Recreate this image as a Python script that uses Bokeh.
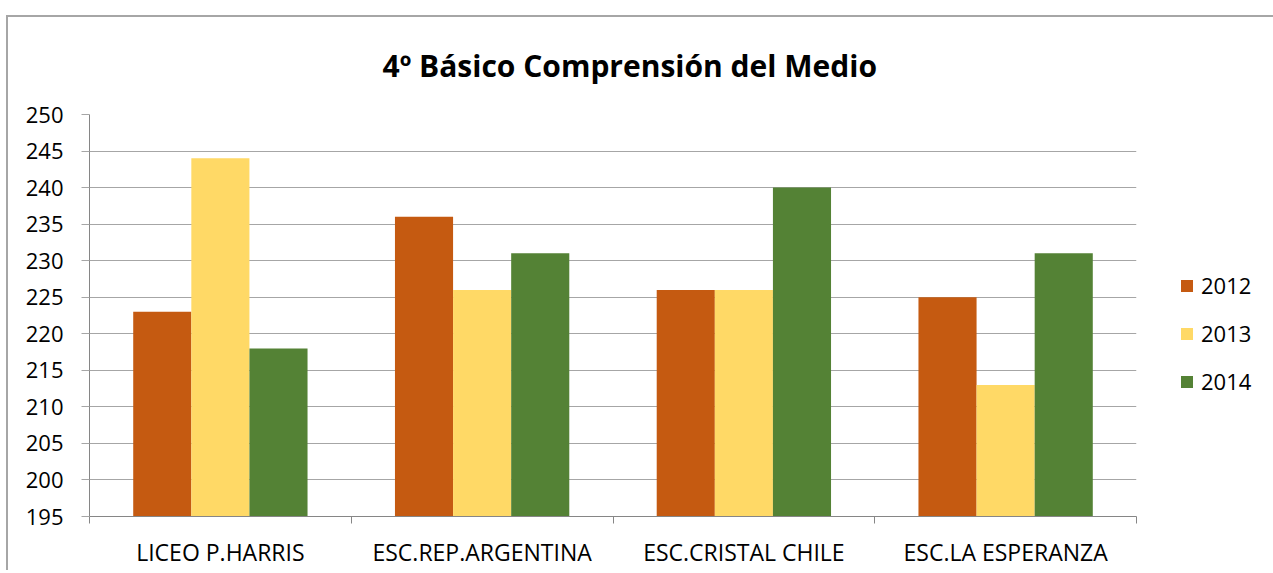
from bokeh.plotting import figure
from bokeh.models import Range1d, FixedTicker, Legend, LegendItem
from bokeh.embed import file_html
from bokeh.resources import INLINE

categories = ["LICEO P.HARRIS", "ESC.REP.ARGENTINA", "ESC.CRISTAL CHILE", "ESC.LA ESPERANZA"]
years = ["2012", "2013", "2014"]
v2012 = [223, 236, 226, 225]
v2013 = [244, 226, 226, 213]
v2014 = [218, 231, 240, 231]
y_ticks = list(range(195, 251, 5))
colors = ["#C55A11", "#FFD966", "#548235"]
title = "4º Básico Comprensión del Medio"

FONT = "Open Sans"
GRID = "#a6a6a6"

p = figure(frame_width=1047, frame_height=402, output_backend="svg", toolbar_location=None,
           x_range=Range1d(0, len(categories)), y_range=Range1d(y_ticks[0], y_ticks[-1]),
           min_border_left=81, min_border_right=113, min_border_top=97, min_border_bottom=40)
p.styles = {"margin-left": "6px", "margin-top": "15px",
            "border-left": "2px solid #a6a6a6", "border-top": "2px solid #a6a6a6"}
p.outline_line_color = None
p.background_fill_color = "white"
p.border_fill_color = "white"

p.title.text = title
p.title.align = "left"
p.title.vertical_align = "top"
p.title.text_font = FONT
p.title.text_font_size = "30px"
p.title.text_font_style = "bold"
p.title.text_color = "black"
p.title.offset = 293
p.title.standoff = 53

centers = [i + 0.5 for i in range(len(categories))]
bw = 0.222
renderers = []
for j, (vals, col) in enumerate(zip([v2012, v2013, v2014], colors)):
    xs = [c + (j - 1) * bw for c in centers]
    r = p.vbar(x=xs, top=vals, bottom=y_ticks[0], width=bw, fill_color=col, line_color=None)
    renderers.append(r)

# x axis
p.xgrid.visible = False
p.xaxis.ticker = FixedTicker(ticks=centers, minor_ticks=list(range(len(categories) + 1)))
p.xaxis.major_label_overrides = {c: name for c, name in zip(centers, categories)}
p.xaxis.major_tick_out = 0
p.xaxis.major_tick_in = 0
p.xaxis.minor_tick_out = 7
p.xaxis.minor_tick_in = 0
p.xaxis.minor_tick_line_color = "#868686"
p.xaxis.axis_line_color = "#868686"
p.xaxis.major_label_text_font = FONT
p.xaxis.major_label_text_font_size = "23px"
p.xaxis.major_label_text_color = "black"
p.xaxis.major_label_standoff = 12

# y axis
p.yaxis.ticker = FixedTicker(ticks=y_ticks)
p.yaxis.major_tick_out = 8
p.yaxis.major_tick_in = 0
p.yaxis.minor_tick_line_color = None
p.yaxis.major_tick_line_color = GRID
p.yaxis.axis_line_color = "#868686"
p.yaxis.major_label_text_font = FONT
p.yaxis.major_label_text_font_size = "22px"
p.yaxis.major_label_text_color = "black"
p.yaxis.major_label_standoff = 18
p.ygrid.grid_line_color = GRID
p.ygrid.grid_line_width = 1

legend = Legend(items=[LegendItem(label=y, renderers=[r]) for y, r in zip(years, renderers)],
                location=(43, 120), orientation="vertical",
                glyph_width=15, glyph_height=15, label_height=30, spacing=18,
                label_standoff=7, padding=0, margin=0,
                border_line_color=None, background_fill_alpha=0,
                label_text_font=FONT, label_text_font_size="22px", label_text_color="black")
p.add_layout(legend, "right")

open("out.html", "w").write(file_html(p, INLINE))
